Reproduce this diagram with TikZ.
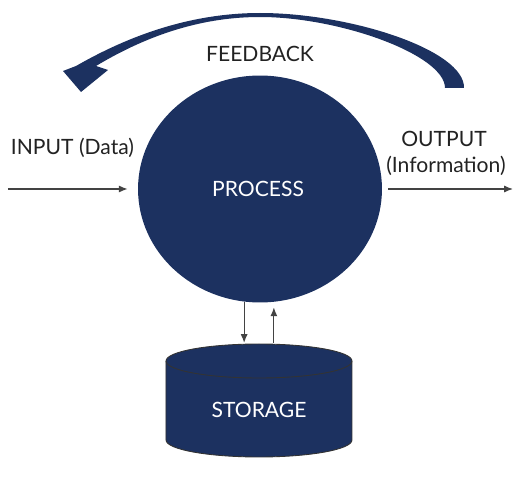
\documentclass[tikz,border=0pt]{standalone}
\usepackage{fontspec}
\setmainfont{Lato}
\usetikzlibrary{shapes.geometric,arrows.meta}
\definecolor{navy}{HTML}{1C3160}
\definecolor{ink}{HTML}{222222}
\tikzset{
  lbl/.style={anchor=base, text=ink, font=\fontsize{12}{14}\selectfont, inner sep=0pt},
  wlbl/.style={anchor=base, text=white, font=\fontsize{12}{14}\selectfont, inner sep=0pt},
  flow/.style={draw=ink!85, line width=0.7pt, -{Latex[length=5pt,width=4pt]}},
  navyshape/.style={fill=navy}
}
\begin{document}
\begin{tikzpicture}[x=0.02cm,y=0.02cm]
\useasboundingbox (0,0) rectangle (522,481);
% process
\node[ellipse, navyshape, minimum width=4.88cm, minimum height=4.54cm, inner sep=0pt] (proc) at (260,292) {};
\node[wlbl] (proctext) at (258,284) {PROCESS};
% storage cylinder
\path[navyshape, draw=black!80, line width=0.5pt] (166,120) -- (166,41)
  arc[start angle=180, end angle=360, x radius=93, y radius=17] -- (352,120)
  arc[start angle=0, end angle=180, x radius=93, y radius=17] -- cycle;
\draw[black!80, line width=0.5pt] (166,120) arc[start angle=180, end angle=360, x radius=93, y radius=17];
\node[wlbl] (stor) at (259,63) {STORAGE};
\coordinate (stortop) at (259,138);
% feedback arrow
\fill[navy] (464,393) .. controls (465,431) and (350,468) .. (260,468)
  .. controls (198,468) and (137,450) .. (76,415) -- (63,410) -- (81,389) -- (108,411) -- (96,415)
  .. controls (151,448) and (205,464) .. (260,464)
  .. controls (340,464) and (445,426) .. (445,393) -- cycle;
\node[lbl] (fb) at (260,419) {FEEDBACK};
% input / output
\coordinate (inp) at (8,292);
\coordinate (outp) at (513,292);
\node[lbl] (intext) at (72.5,326) {INPUT (Data)};
\node[lbl] (outtext) at (444,334) {OUTPUT};
\node[lbl] (infotext) at (446,308) {(Information)};
\draw[flow, shorten >=0.2cm] (inp) -- (proc.west);
\draw[flow, shorten <=0.12cm] (proc.east) -- (outp);
% storage links
\draw[flow] (proc.262) -- (proc.262 |- stortop);
\draw[flow, shorten >=3pt] (proc.277 |- stortop) -- (proc.277);
\end{tikzpicture}
\end{document}
